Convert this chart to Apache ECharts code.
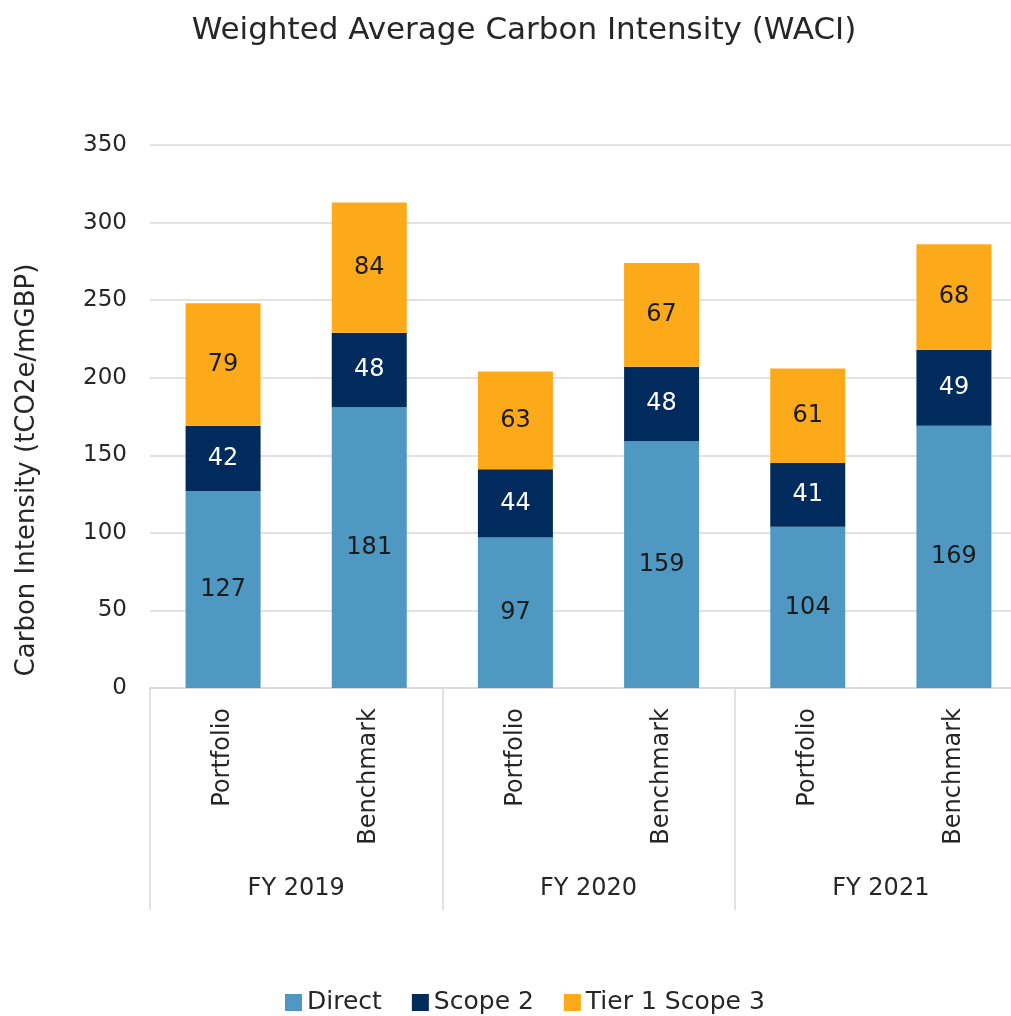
<!DOCTYPE html>
<html>
<head>
<meta charset="utf-8">
<script src="https://cdn.jsdelivr.net/npm/echarts@6/dist/echarts.min.js"></script>
<style>
  html, body { margin: 0; padding: 0; background: #fff; overflow: hidden; }
  #chart { width: 1011px; height: 1016px; }
</style>
</head>
<body>
<div id="chart"></div>
<script>
const categories = ['Portfolio', 'Benchmark', 'Portfolio', 'Benchmark', 'Portfolio', 'Benchmark']
const groups = ['FY 2019', 'FY 2020', 'FY 2021']
const direct = [127, 181, 97, 159, 104, 169]
const scope2 = [42, 48, 44, 48, 41, 49]
const tier1Scope3 = [79, 84, 63, 67, 61, 68]

const font = 'DejaVu Sans'
const textColor = '#262626'
const gridColor = '#d9d9d9'

function barSeries(name, values, color, labelColor) {
  return {
    name: name,
    type: 'bar',
    stack: 'waci',
    barWidth: 75,
    data: values,
    itemStyle: { color: color },
    label: {
      show: true,
      position: 'inside',
      color: labelColor,
      fontFamily: font,
      fontSize: 24
    }
  }
}

const option = {
  backgroundColor: '#fff',
  animation: false,
  title: {
    text: 'Weighted Average Carbon Intensity (WACI)',
    left: 519,
    textAlign: 'center',
    top: 10,
    textStyle: { fontFamily: font, fontSize: 31, fontWeight: 'normal', color: textColor }
  },
  legend: {
    left: 280,
    top: 985,
    itemWidth: 17,
    itemHeight: 17,
    itemGap: 30,
    icon: 'rect',
    textStyle: { fontFamily: font, fontSize: 25, color: textColor },
    data: ['Direct', 'Scope 2', 'Tier 1 Scope 3']
  },
  grid: {
    left: 150,
    width: 877,
    top: 145,
    bottom: 328,
    containLabel: false,
    outerBoundsMode: 'none'
  },
  xAxis: [
    {
      type: 'category',
      position: 'bottom',
      data: categories,
      axisLine: { lineStyle: { color: gridColor, width: 1.5 } },
      axisTick: { show: false },
      axisLabel: {
        rotate: 90,
        margin: 20,
        interval: 0,
        fontFamily: font,
        fontSize: 24,
        color: textColor
      }
    },
    {
      type: 'category',
      position: 'bottom',
      data: groups,
      axisLine: { show: false },
      axisTick: { show: true, length: 222, lineStyle: { color: gridColor, width: 1.5 } },
      axisLabel: {
        margin: 189,
        fontFamily: font,
        fontSize: 24,
        color: textColor
      }
    }
  ],
  yAxis: {
    type: 'value',
    min: 0,
    max: 350,
    interval: 50,
    name: 'Carbon Intensity (tCO2e/mGBP)',
    nameLocation: 'middle',
    nameGap: 110,
    nameTextStyle: { fontFamily: font, fontSize: 26, color: textColor, padding: [0, 107, 0, 0] },
    axisLine: { show: false },
    axisTick: { show: false },
    splitLine: { lineStyle: { color: gridColor, width: 1.5 } },
    axisLabel: { margin: 23, fontFamily: font, fontSize: 23, color: textColor }
  },
  series: [
    barSeries('Direct', direct, '#4e98c2', '#1a1a1a'),
    barSeries('Scope 2', scope2, '#012b5d', '#ffffff'),
    barSeries('Tier 1 Scope 3', tier1Scope3, '#fdaa1a', '#1a1a1a')
  ]
}

const myChart = echarts.init(document.getElementById('chart'))
myChart.setOption(option)
</script>
</body>
</html>
